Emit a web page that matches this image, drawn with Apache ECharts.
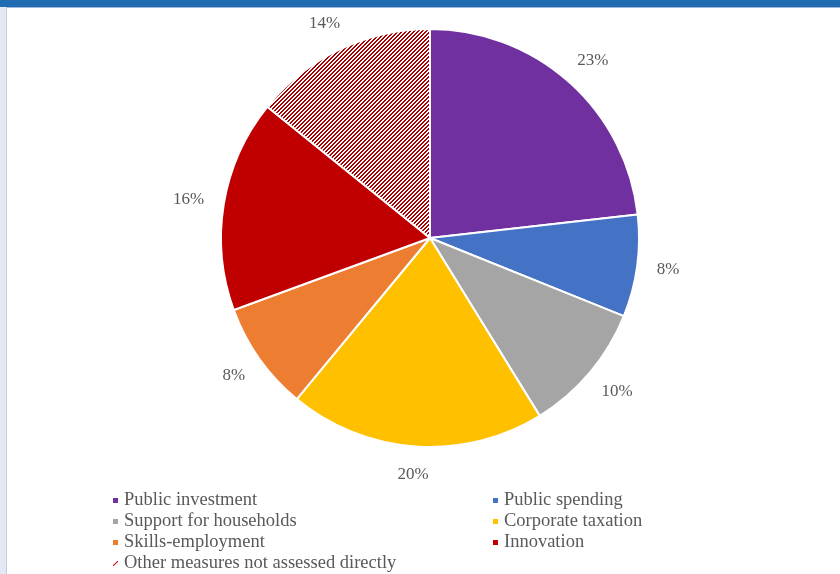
<!DOCTYPE html>
<html>
<head>
<meta charset="utf-8">
<script src="https://cdn.jsdelivr.net/npm/echarts@6/dist/echarts.min.js"></script>
<style>
html,body{margin:0;padding:0;background:#fff;}
#chart{width:840px;height:574px;}
</style>
</head>
<body>
<div id="chart"></div>
<script>
const categories = ['Public investment','Public spending','Support for households','Corporate taxation','Skills-employment','Innovation','Other measures not assessed directly'];
const values = [23.2, 7.9, 10.1, 19.8, 8.4, 16.4, 14.2];
const colors = ['#7030A0','#4472C4','#A5A5A5','#FFC000','#ED7D31','#C00000','#C00000'];
const leftLegend = ['Public investment','Support for households','Skills-employment','Other measures not assessed directly'];
const rightLegend = ['Public spending','Corporate taxation','Innovation'];

const CX = 430, CY = 238, R = 209, LABEL_GAP = 20;

// hatch pattern
const pc = document.createElement('canvas');
pc.width = 4; pc.height = 4;
const pctx = pc.getContext('2d');
pctx.fillStyle = '#ffffff';
pctx.fillRect(0,0,4,4);
pctx.fillStyle = '#A80000';
for (let x = 0; x < 4; x++) for (let y = 0; y < 4; y++) {
  if (((x + y) % 4) < 2) pctx.fillRect(x, y, 1, 1);
}
const hatch = {image: pc, repeat: 'repeat'};

const pieData = categories.map((c, i) => ({
  name: c,
  value: values[i],
  itemStyle: {color: i === 6 ? hatch : colors[i]}
}));
const labelData = categories.map((c, i) => ({name: c, value: values[i]}));

const serif = '"Liberation Serif", "Times New Roman", serif';
const slashIcon = 'path://M0,10 L3,10 L10,3 L10,0 L7,0 L0,7 Z';

function legendData(list) {
  return list.map(n => n === categories[6]
    ? {name: n, icon: slashIcon, itemStyle: {color: '#C00000'}}
    : {name: n, icon: 'rect'});
}

const legendCommon = {
  orient: 'vertical', top: 490, itemGap: 0, padding: 0, height: 120,
  itemWidth: 7, itemHeight: 7,
  textStyle: {fontFamily: serif, fontSize: 18.5, lineHeight: 21, color: '#595959'},
  selectedMode: false
};

// Place each outside label so its box sits just beyond the rim along the slice's mid-angle
function placeLabel(params) {
  const r = params.labelRect;
  const lx = r.x + r.width / 2, ly = r.y + r.height / 2;
  const vx = lx - CX, vy = ly - CY;
  const len = Math.sqrt(vx * vx + vy * vy) || 1;
  const ux = vx / len, uy = vy / len;
  const tx = CX + ux * (R + LABEL_GAP) + ux * r.width / 2;
  const ty = CY + uy * (R + LABEL_GAP) + uy * r.height / 2;
  return {dx: tx - lx, dy: ty - ly};
}

const chart = echarts.init(document.getElementById('chart'), null, {renderer: 'canvas'});
chart.setOption({
  animation: false,
  backgroundColor: '#ffffff',
  graphic: [
    {type: 'rect', shape: {x: 0, y: 0, width: 840, height: 7}, style: {fill: '#1F6CB2'}, z: 10},
    {type: 'rect', shape: {x: 0, y: 7, width: 840, height: 1}, style: {fill: '#9DB8D8'}, z: 10},
    {type: 'rect', shape: {x: 0, y: 7, width: 6, height: 567}, style: {fill: '#E3E8F5'}, z: 10},
    {type: 'rect', shape: {x: 6, y: 7, width: 1, height: 567}, style: {fill: '#C9CCD4'}, z: 10}
  ],
  legend: [
    Object.assign({}, legendCommon, {left: 111, data: legendData(leftLegend)}),
    Object.assign({}, legendCommon, {left: 491, data: legendData(rightLegend)})
  ],
  series: [
    {
      type: 'pie',
      center: [CX, CY],
      radius: [0, R],
      startAngle: 90,
      clockwise: true,
      avoidLabelOverlap: false,
      label: {show: false},
      labelLine: {show: false},
      itemStyle: {borderColor: '#ffffff', borderWidth: 2},
      emphasis: {disabled: true},
      data: pieData
    },
    {
      type: 'pie',
      center: [CX, CY],
      radius: [226, 248],
      startAngle: 90,
      clockwise: true,
      silent: true,
      avoidLabelOverlap: false,
      itemStyle: {color: 'rgba(0,0,0,0)'},
      label: {
        show: true, position: 'inside',
        fontFamily: serif, fontSize: 17, color: '#595959',
        formatter: p => Math.round(p.value) + '%'
      },
      labelLayout: placeLabel,
      labelLine: {show: false},
      emphasis: {disabled: true},
      data: labelData
    }
  ]
});
</script>
</body>
</html>
